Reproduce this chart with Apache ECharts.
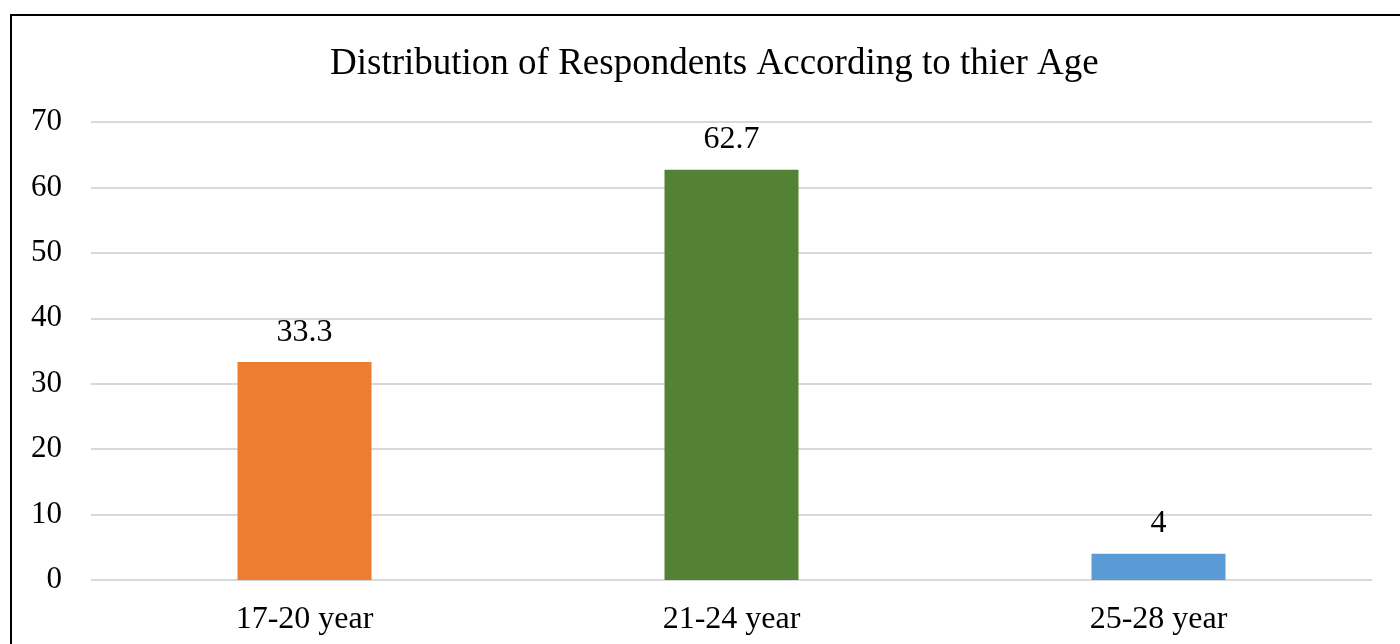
<!DOCTYPE html>
<html>
<head>
<meta charset="utf-8">
<script src="https://cdn.jsdelivr.net/npm/echarts@6/dist/echarts.min.js"></script>
<style>
  html, body { margin: 0; padding: 0; background: #fff; }
  #chart { position: absolute; left: 0; top: 0; width: 1400px; height: 644px; }
  /* frame of the original figure: only the left and top edges are visible */
  #frame { position: absolute; left: 10px; top: 14px; width: 1400px; height: 640px;
           border-left: 2px solid #000; border-top: 2px solid #000; pointer-events: none; }
</style>
</head>
<body>
<div id="chart"></div>
<div id="frame"></div>
<script>
const ageGroups = ['17-20 year', '21-24 year', '25-28 year'];
const percentValues = [33.3, 62.7, 4];
const barColors = ['#ED7D31', '#548235', '#5B9BD5'];
const titleText = 'Distribution of Respondents According to thier Age';

const chart = echarts.init(document.getElementById('chart'));
const fontFamily = '"Liberation Serif", "Times New Roman", serif';

chart.setOption({
  animation: false,
  title: {
    text: titleText,
    left: 325,
    top: 41,
    textStyle: { fontFamily: fontFamily, fontSize: 37, fontWeight: 'normal', color: '#000' }
  },
  grid: { left: 91, right: 28, top: 122, bottom: 64 },
  xAxis: {
    type: 'category',
    data: ageGroups,
    axisLine: { show: false },
    axisTick: { show: false },
    axisLabel: { margin: 24, fontFamily: fontFamily, fontSize: 32, color: '#000' }
  },
  yAxis: {
    type: 'value',
    min: 0,
    max: 70,
    interval: 10,
    axisLine: { show: false },
    axisTick: { show: false },
    axisLabel: { margin: 29, fontFamily: fontFamily, fontSize: 31, color: '#000' },
    splitLine: { lineStyle: { color: '#d9d9d9', width: 2 } }
  },
  series: [{
    type: 'bar',
    barWidth: 134,
    data: percentValues.map((v, i) => ({ value: v, itemStyle: { color: barColors[i] } })),
    label: {
      show: true,
      position: 'top',
      distance: 14,
      fontFamily: fontFamily,
      fontSize: 32,
      color: '#000'
    }
  }]
});
</script>
</body>
</html>
